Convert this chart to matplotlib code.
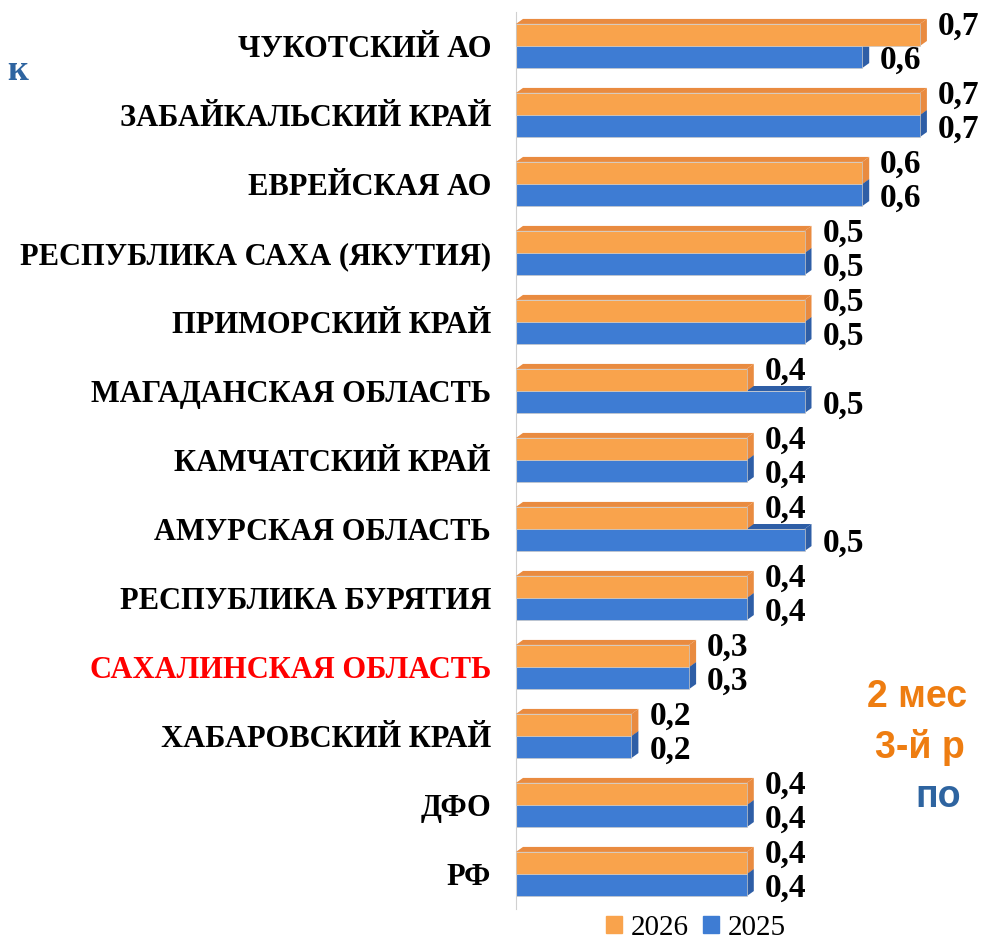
import numpy as np
import matplotlib
matplotlib.use("Agg")
import matplotlib.pyplot as plt
from matplotlib.patches import Polygon

plt.rcParams['font.family'] = ['Liberation Serif', 'DejaVu Serif']

regions = ['ЧУКОТСКИЙ АО', 'ЗАБАЙКАЛЬСКИЙ КРАЙ', 'ЕВРЕЙСКАЯ АО',
           'РЕСПУБЛИКА САХА (ЯКУТИЯ)', 'ПРИМОРСКИЙ КРАЙ', 'МАГАДАНСКАЯ ОБЛАСТЬ',
           'КАМЧАТСКИЙ КРАЙ', 'АМУРСКАЯ ОБЛАСТЬ', 'РЕСПУБЛИКА БУРЯТИЯ',
           'САХАЛИНСКАЯ ОБЛАСТЬ', 'ХАБАРОВСКИЙ КРАЙ', 'ДФО', 'РФ']
vals_2026 = [0.7, 0.7, 0.6, 0.5, 0.5, 0.4, 0.4, 0.4, 0.4, 0.3, 0.2, 0.4, 0.4]
vals_2025 = [0.6, 0.7, 0.6, 0.5, 0.5, 0.5, 0.4, 0.5, 0.4, 0.3, 0.2, 0.4, 0.4]
highlight = 'САХАЛИНСКАЯ ОБЛАСТЬ'

# colours
or_front, or_dark = '#F9A34C', '#E98B40'
bl_front, bl_dark = '#3E7CD3', '#2E5EA6'

W, H = 982, 941
fig = plt.figure(figsize=(W / 100, H / 100), dpi=100)

px_per_unit = 577.0
row_px = 69.0
n = len(regions)
ax_left = 516 / W
ax_w = 0.8 * px_per_unit / W
top_px = 46 - 0.5 * row_px
ax_h = n * row_px / H
ax_bottom = (H - top_px) / H - ax_h
ax = fig.add_axes([ax_left, ax_bottom, ax_w, ax_h])
ax.set_xlim(0, 0.8)
ax.set_ylim(n - 0.5, -0.5)

h = 0.32
dx = 7 / px_per_unit
dy = 5 / row_px
y = np.arange(n)


def draw_bars(vals, centers, front, dark, z):
    ax.barh(centers, vals, height=h, color=front, edgecolor='#C8C8C8',
            linewidth=0.5, zorder=z)
    for v, c in zip(vals, centers):
        yt, yb = c - h / 2, c + h / 2
        top = Polygon([(0, yt), (dx, yt - dy), (v + dx, yt - dy), (v, yt)],
                      closed=True, facecolor=dark, edgecolor='none', zorder=z - 0.5)
        side = Polygon([(v, yb), (v + dx, yb - dy), (v + dx, yt - dy), (v, yt)],
                       closed=True, facecolor=dark, edgecolor='none', zorder=z - 0.5)
        ax.add_patch(top)
        ax.add_patch(side)


# blue (2025) first so the orange bar covers its top face
draw_bars(vals_2025, y + h / 2, bl_front, bl_dark, 2)
draw_bars(vals_2026, y - h / 2, or_front, or_dark, 4)


def fmt(v):
    return f"{v:.1f}".replace('.', ',')


for i in range(n):
    ax.text(vals_2026[i] + dx + 0.019, y[i] - h / 2 - 0.12, fmt(vals_2026[i]),
            ha='left', va='center', fontsize=24, fontweight='bold', clip_on=False)
    ax.text(vals_2025[i] + dx + 0.019, y[i] + h / 2 + 0.05, fmt(vals_2025[i]),
            ha='left', va='center', fontsize=24, fontweight='bold', clip_on=False)

ax.set_yticks(y)
ax.set_yticklabels(regions, fontsize=22, fontweight='bold')
for lbl in ax.get_yticklabels():
    if lbl.get_text() == highlight:
        lbl.set_color('#FF0000')
ax.tick_params(axis='y', length=0, pad=18)
ax.set_xticks([])
for s in ['top', 'right', 'bottom']:
    ax.spines[s].set_visible(False)
ax.spines['left'].set_color('#D0D0D0')
ax.spines['left'].set_linewidth(0.8)
ax.patch.set_alpha(0)

h1 = plt.Rectangle((0, 0), 1, 1, color=or_front)
h2 = plt.Rectangle((0, 0), 1, 1, color=bl_front)
fig.legend([h1, h2], ['2026', '2025'], loc='center', ncol=2,
           bbox_to_anchor=(696 / W, 1 - 928 / H), frameon=False,
           fontsize=21, handlelength=0.55, handleheight=0.55,
           handletextpad=0.3, columnspacing=0.5, borderpad=0)

# fragments of slide text around the chart (cut by the slide edge)
fig.text(7 / W, 1 - 72 / H, 'к', color='#2E64A0', fontsize=26,
         fontweight='bold', va='center', ha='left')
fig.text(867 / W, 1 - 697 / H, '2 мес', color='#EE7D11', fontsize=27,
         fontweight='bold', family=['Liberation Sans'], va='center', ha='left')
fig.text(875 / W, 1 - 747 / H, '3-й р', color='#EE7D11', fontsize=27,
         fontweight='bold', family=['Liberation Sans'], va='center', ha='left')
fig.text(915 / W, 1 - 797 / H, 'по', color='#2E64A0', fontsize=27,
         fontweight='bold', family=['Liberation Sans'], va='center', ha='left')

fig.savefig('out.png', dpi=100)
